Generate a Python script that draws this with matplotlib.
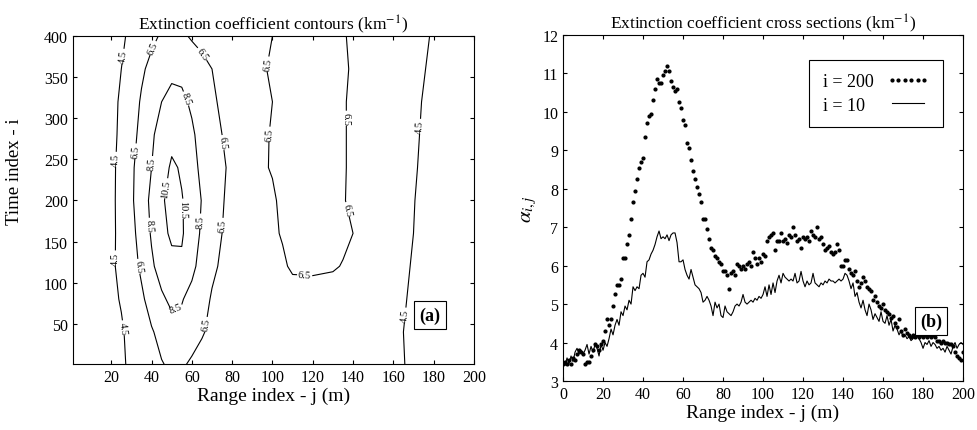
import numpy as np
import matplotlib
matplotlib.use('Agg')
import matplotlib.pyplot as plt

plt.rcParams['font.family'] = ['Liberation Serif', 'DejaVu Serif']
plt.rcParams['mathtext.fontset'] = 'stix'

# ---- panel (a): extinction coefficient field ----
range_grid = [0, 10, 20, 25, 30, 35, 40, 45, 50, 55, 60, 65, 70, 75, 80, 90, 95,
              100, 105, 110, 120, 130, 135, 140, 145, 150, 160, 165, 170, 175, 180, 190, 200]
time_grid = [0, 40, 80, 120, 160, 200, 240, 280, 320, 360, 400]
alpha_grid = [
    [3.45, 3.7, 3.9, 4.3, 4.75, 5.4, 5.8, 6.4, 6.75, 6.8, 6.1, 5.7, 5.1, 4.9, 4.7, 5.1, 5.1,
     5.3, 5.4, 5.7, 5.55, 5.55, 5.6, 5.6, 5.3, 5.0, 4.7, 4.55, 4.2, 4.1, 4.0, 3.8, 3.9],
    [3.5, 3.7, 4.0, 4.35, 4.9, 5.6, 6.35, 7.0, 7.8, 8.0, 7.6, 6.7, 6.0, 5.6, 5.3, 5.2, 5.3,
     5.4, 5.5, 5.7, 5.8, 5.8, 5.8, 5.8, 5.5, 5.2, 4.8, 4.5, 4.3, 4.2, 4.1, 3.9, 3.8],
    [3.5, 3.8, 4.2, 4.6, 5.3, 6.2, 7.2, 8.2, 8.9, 8.6, 8.0, 7.3, 6.3, 5.8, 5.5, 5.4, 5.5,
     5.6, 5.7, 5.9, 6.0, 6.0, 6.0, 6.0, 5.7, 5.4, 4.9, 4.6, 4.3, 4.2, 4.1, 3.9, 3.8],
    [3.5, 3.8, 4.3, 4.8, 5.8, 6.8, 8.2, 9.3, 10.0, 10.2, 8.9, 7.9, 6.9, 6.2, 5.8, 5.6, 5.8,
     6.0, 6.3, 6.7, 6.7, 6.6, 6.45, 6.3, 5.9, 5.5, 5.0, 4.7, 4.4, 4.25, 4.15, 3.9, 3.8],
    [3.5, 3.7, 4.2, 4.9, 6.0, 7.2, 8.7, 10.0, 10.8, 10.7, 9.5, 8.2, 7.3, 6.5, 6.0, 5.8, 6.0,
     6.3, 6.6, 6.8, 6.8, 6.8, 6.7, 6.5, 6.0, 5.6, 5.0, 4.75, 4.5, 4.3, 4.2, 3.95, 3.75],
    [3.5, 3.7, 4.2, 4.95, 6.2, 7.6, 8.9, 10.3, 11.0, 10.6, 9.8, 8.4, 7.2, 6.6, 6.1, 5.9, 6.1,
     6.3, 6.8, 6.7, 6.7, 6.7, 6.6, 6.2, 5.8, 5.6, 5.0, 4.7, 4.55, 4.2, 4.15, 4.0, 3.7],
    [3.5, 3.7, 4.2, 4.9, 6.2, 7.3, 8.5, 9.6, 10.8, 10.3, 9.1, 8.1, 7.3, 6.7, 6.2, 6.1, 6.35,
     6.6, 6.8, 6.9, 6.9, 6.8, 6.6, 6.3, 5.9, 5.6, 5.1, 4.8, 4.6, 4.35, 4.2, 4.0, 3.8],
    [3.5, 3.7, 4.1, 4.8, 5.9, 7.0, 8.2, 9.3, 9.9, 9.7, 8.8, 7.8, 7.1, 6.5, 6.1, 6.0, 6.3,
     6.6, 6.8, 6.9, 6.9, 6.8, 6.6, 6.3, 5.9, 5.6, 5.1, 4.9, 4.65, 4.4, 4.2, 4.0, 3.8],
    [3.5, 3.7, 4.1, 4.7, 5.6, 6.7, 7.7, 8.5, 9.0, 8.9, 8.2, 7.5, 6.8, 6.2, 5.9, 5.9, 6.2,
     6.5, 6.75, 6.9, 6.9, 6.8, 6.6, 6.3, 5.9, 5.6, 5.1, 4.9, 4.7, 4.45, 4.25, 4.0, 3.8],
    [3.5, 3.7, 4.0, 4.5, 5.3, 6.2, 7.0, 7.7, 8.1, 8.0, 7.6, 7.0, 6.5, 6.0, 5.7, 5.9, 6.35,
     6.7, 6.8, 6.9, 6.9, 6.8, 6.7, 6.35, 5.9, 5.6, 5.2, 5.0, 4.8, 4.55, 4.3, 4.05, 3.85],
    [3.5, 3.6, 3.9, 4.2, 4.9, 5.5, 6.1, 6.7, 7.1, 6.8, 6.3, 6.0, 5.8, 5.6, 5.5, 5.8, 6.2,
     6.5, 6.8, 6.9, 6.9, 6.8, 6.6, 6.3, 5.9, 5.6, 5.2, 5.0, 4.85, 4.65, 4.4, 4.1, 3.9],
]
contour_levels = [4.5, 6.5, 8.5, 10.5]

# where the contour labels sit on the map (j, i)
label_spots = [(27, 375), (22, 250), (22, 130), (26, 45),
               (41, 385), (33, 260), (34, 120),
               (63, 375), (74, 270), (73, 170), (65, 50),
               (53, 320), (40, 245), (40, 170), (64, 175), (52, 68),
               (47, 215), (56, 190),
               (101, 280), (100, 365), (137, 300), (139, 190), (116, 110),
               (174, 290), (168, 60)]

# ---- panel (b): cross sections at i = 200 and i = 10 ----
range_j = list(range(0, 201))
alpha_i200 = [
    3.45, 3.5, 3.45, 3.55, 3.45, 3.6, 3.55, 3.7, 3.8, 3.75,
    3.7, 3.45, 3.5, 3.5, 3.65, 3.8, 3.95, 3.9, 3.8, 3.95,
    4.05, 4.3, 4.6, 4.45, 4.6, 4.95, 5.25, 5.5, 5.5, 5.65,
    6.2, 6.2, 6.55, 6.8, 7.2, 7.65, 7.95, 8.25, 8.55, 8.7,
    8.8, 9.35, 9.7, 9.9, 9.95, 10.3, 10.6, 10.85, 10.75, 10.75,
    10.95, 11.05, 11.2, 11.05, 10.8, 10.65, 10.55, 10.6, 10.25, 10.1,
    9.8, 9.65, 9.2, 9.05, 8.75, 8.45, 8.25, 8.05, 7.85, 7.65,
    7.2, 7.2, 6.95, 6.7, 6.45, 6.4, 6.25, 6.2, 6.1, 6.05,
    5.85, 5.85, 5.75, 5.4, 5.8, 5.85, 5.75, 6.05, 6.0, 5.9,
    6.0, 5.9, 6.05, 6.1, 6.0, 6.35, 6.2, 6.05, 6.2, 6.1,
    6.3, 6.25, 6.65, 6.75, 6.8, 6.85, 6.4, 6.65, 6.65, 6.85,
    6.65, 6.7, 6.6, 6.8, 6.75, 7.0, 6.8, 6.65, 6.7, 6.45,
    6.75, 6.7, 6.75, 6.65, 6.9, 6.8, 6.75, 7.0, 6.7, 6.75,
    6.55, 6.4, 6.45, 6.5, 6.35, 6.3, 6.35, 6.55, 6.4, 6.0,
    6.0, 6.15, 6.15, 5.9, 5.8, 5.75, 5.85, 5.6, 5.45, 5.55,
    5.7, 5.6, 5.45, 5.4, 5.35, 5.1, 5.2, 5.05, 4.95, 4.9,
    5.0, 4.85, 4.8, 4.75, 4.65, 4.7, 4.5, 4.4, 4.6, 4.3,
    4.2, 4.35, 4.25, 4.2, 4.15, 4.2, 4.15, 4.2, 4.15, 4.2,
    4.15, 4.2, 4.15, 4.2, 4.15, 4.2, 4.15, 4.05, 4.05, 4.0,
    4.05, 4.0, 4.0, 3.95, 3.95, 3.9, 3.75, 3.65, 3.6, 3.55,
    3.75,
]
alpha_i10 = [
    3.45, 3.4, 3.6, 3.45, 3.65, 3.5, 3.75, 3.85, 3.7, 3.8,
    3.7, 3.8, 3.95, 3.7, 3.9, 3.75, 3.95, 3.85, 3.65, 3.95,
    3.8, 4.0, 3.9, 4.1, 4.35, 4.2, 4.45, 4.6, 4.45, 4.8,
    4.7, 4.95, 4.85, 5.1, 5.0, 5.45, 5.35, 5.45, 5.4, 5.75,
    5.8, 5.7, 6.1, 6.15, 6.3, 6.4, 6.55, 6.75, 6.9, 6.7,
    6.75, 6.7, 6.8, 6.65, 6.8, 6.85, 6.85, 6.6, 6.1, 6.1,
    6.15, 5.9, 5.75, 5.65, 5.9, 5.7, 5.5, 5.45, 5.4, 5.3,
    5.05, 5.1, 5.2, 5.1, 4.95, 4.7, 5.05, 4.9, 5.0, 4.7,
    4.65, 4.95, 4.8, 4.75, 4.7, 4.8, 4.95, 5.0, 4.95, 5.05,
    5.25, 5.05, 5.0, 5.05, 5.1, 5.05, 5.15, 5.1, 5.2, 5.15,
    5.25, 5.45, 5.2, 5.5, 5.25, 5.55, 5.3, 5.6, 5.75, 5.55,
    5.8, 5.7, 5.65, 5.6, 5.65, 5.6, 5.8, 5.55, 5.6, 5.85,
    5.6, 5.45, 5.6, 5.5, 5.55, 5.8, 5.55, 5.5, 5.45, 5.55,
    5.5, 5.6, 5.55, 5.65, 5.6, 5.6, 5.55, 5.6, 5.65, 5.6,
    5.65, 5.8, 5.75, 5.6, 5.4, 5.55, 5.2, 5.3, 5.05, 4.9,
    5.1, 4.85, 4.7, 5.0, 4.85, 4.6, 4.75, 4.65, 4.55, 4.8,
    4.55, 4.5, 4.7, 4.45, 4.6, 4.3, 4.45, 4.35, 4.2, 4.3,
    4.15, 4.2, 4.1, 4.15, 4.05, 4.1, 4.2, 4.25, 4.1, 4.0,
    3.85, 4.0, 3.95, 4.05, 3.9, 4.0, 3.95, 3.85, 3.9, 3.8,
    3.85, 3.75, 3.9, 3.8, 3.7, 3.9, 4.0, 3.85, 3.95, 4.0,
    3.95,
]

box_style = dict(boxstyle='square,pad=0.3', fc='white', ec='k', lw=0.8)

fig = plt.figure(figsize=(9.78, 4.31), dpi=100)

# left: contours
ax1 = fig.add_axes([0.0746, 0.153, 0.410, 0.761])
cs = ax1.contour(range_grid, time_grid, np.array(alpha_grid), levels=contour_levels,
                 colors='k', linewidths=0.8)
ax1.clabel(cs, fmt='%.1f', fontsize=7.5, inline=True, inline_spacing=1, manual=label_spots)
ax1.set_xlim(1, 200)
ax1.set_ylim(1, 400)
ax1.set_xticks(range(20, 201, 20))
ax1.set_yticks(range(50, 401, 50))
ax1.tick_params(direction='in', top=True, right=True, labelsize=11.5, length=3)
ax1.set_xlabel('Range index - j (m)', fontsize=14, labelpad=1)
ax1.set_ylabel('Time index - i', fontsize=13.5)
ax1.yaxis.set_label_coords(-0.125, 0.59)
ax1.set_title('Extinction coefficient contours (km$^{-1}$)', fontsize=12.5, pad=5)
ax1.text(0.89, 0.15, '(a)', transform=ax1.transAxes, ha='center', va='center',
         fontsize=13, fontweight='bold', bbox=box_style, zorder=5)

# right: cross sections
ax2 = fig.add_axes([0.5757, 0.1137, 0.409, 0.803])
ax2.plot(range_j, alpha_i200, ls='none', marker='o', ms=2.0, color='k', label='i = 200')
ax2.plot(range_j, alpha_i10, '-', lw=0.8, color='k', label='i = 10\u2007')
ax2.set_xlim(0, 200)
ax2.set_ylim(3, 12)
ax2.set_xticks(range(0, 201, 20))
ax2.set_yticks(range(3, 13))
ax2.tick_params(direction='in', top=True, right=True, labelsize=11.5, length=3)
ax2.set_xlabel('Range index - j (m)', fontsize=14, labelpad=1)
ax2.set_ylabel(r'$\alpha_{i,j}$', fontsize=15, labelpad=2)
ax2.set_title('Extinction coefficient cross sections (km$^{-1}$)', fontsize=12.5, pad=5)
leg = ax2.legend(loc='upper right', bbox_to_anchor=(0.95, 0.928), borderaxespad=0,
                 markerfirst=False, numpoints=6, fancybox=False, edgecolor='k',
                 fontsize=13, handlelength=2.4, handletextpad=0.7, borderpad=0.75,
                 labelspacing=0.35, framealpha=1)
leg.get_frame().set_linewidth(0.8)
ax2.text(0.92, 0.173, '(b)', transform=ax2.transAxes, ha='center', va='center',
         fontsize=13, fontweight='bold', bbox=box_style, zorder=5)

fig.savefig('out.png', dpi=100)
